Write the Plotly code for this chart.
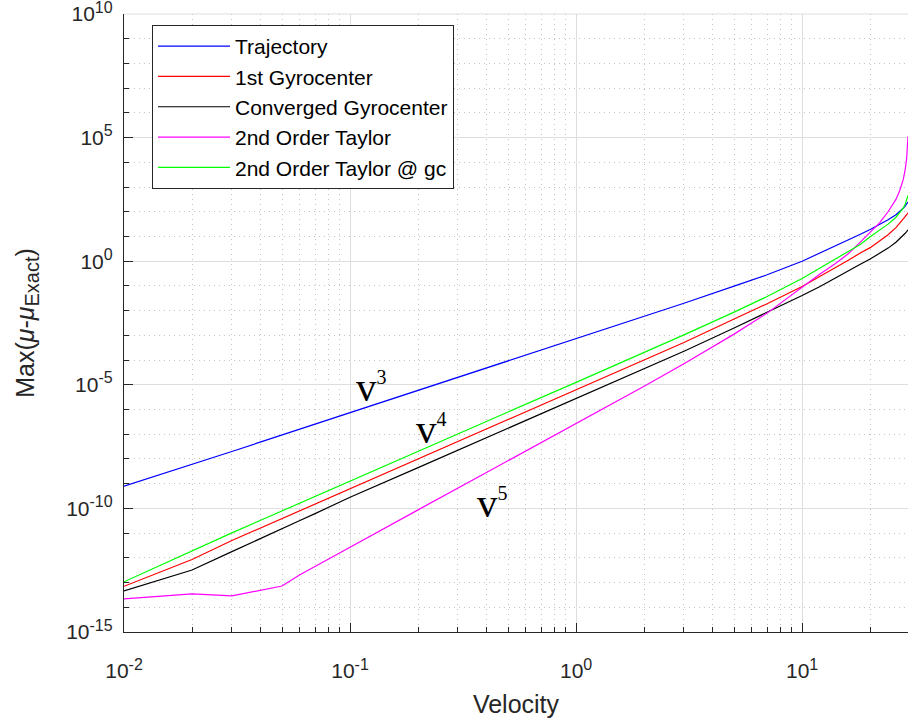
import numpy as np
import plotly.graph_objects as go

# Velocity samples shared by all curves
velocity = [0.01, 0.02, 0.03, 0.04, 0.05, 0.06, 0.07, 0.08, 0.09, 0.1,
            0.2, 0.5, 1, 2, 3, 5, 7, 10, 12, 14, 16, 18, 20, 22, 24, 26, 27, 28, 28.5, 29, 29.4]

# log10 of Max(mu - mu_exact) for each method
trajectory_exp = [-9.10, -8.23, -7.70, -7.32, -7.03, -6.80, -6.60, -6.42, -6.27, -6.13,
                  -5.23, -4.03, -3.13, -2.23, -1.70, -1.01, -0.55, 0.00, 0.33, 0.60,
                  0.86, 1.08, 1.28, 1.48, 1.68, 1.88, 2.00, 2.14, 2.22, 2.31, 2.40]
gyro1_exp = [-13.15, -12.07, -11.30, -10.80, -10.41, -10.10, -9.83, -9.60, -9.39, -9.21,
             -8.01, -6.41, -5.21, -4.01, -3.29, -2.34, -1.72, -1.02, -0.62, -0.26,
             0.04, 0.32, 0.55, 0.82, 1.07, 1.36, 1.52, 1.70, 1.79, 1.88, 1.96]
converged_exp = [-13.34, -12.49, -11.75, -11.24, -10.82, -10.49, -10.21, -9.96, -9.75, -9.55,
                 -8.35, -6.75, -5.55, -4.35, -3.64, -2.70, -2.08, -1.39, -1.02, -0.67,
                 -0.38, -0.13, 0.09, 0.31, 0.53, 0.77, 0.90, 1.04, 1.12, 1.20, 1.27]
taylor2_exp = [-13.66, -13.46, -13.54, -13.30, -13.14, -12.68, -12.35, -12.06, -11.80, -11.57,
               -10.06, -8.08, -6.57, -5.06, -4.15, -2.95, -2.10, -1.05, -0.52, -0.10,
               0.30, 0.75, 1.15, 1.55, 2.00, 2.50, 2.85, 3.30, 3.65, 4.15, 5.05]
taylor2_gc_exp = [-12.97, -11.71, -10.99, -10.49, -10.10, -9.79, -9.52, -9.29, -9.08, -8.90,
                  -7.70, -6.10, -4.90, -3.70, -2.98, -2.06, -1.43, -0.70, -0.27, 0.08,
                  0.38, 0.67, 0.99, 1.24, 1.50, 1.78, 1.95, 2.15, 2.28, 2.45, 2.66]

series_names = ["Trajectory", "1st Gyrocenter", "Converged Gyrocenter",
                "2nd Order Taylor", "2nd Order Taylor @ gc"]
series_exps = [trajectory_exp, gyro1_exp, converged_exp, taylor2_exp, taylor2_gc_exp]
series_colors = ["#0000ff", "#ff0000", "#000000", "#ff00ff", "#00ff00"]

# Axis ticks (decade exponents shown as superscripts)
x_major = [0.01, 0.1, 1, 10]
x_major_exp = ["-2", "-1", "0", "1"]
y_major = [1e-15, 1e-10, 1e-5, 1, 1e5, 1e10]
y_major_exp = ["-15", "-10", "-5", "0", "5", "10"]
x_limits = [0.01, 29.4]
y_limits = [1e-15, 1.002e10]

# Power-law slope labels
slope_text = ["v", "v", "v"]
slope_power = ["3", "4", "5"]
slope_x = [0.125, 0.23, 0.425]
slope_y = [8e-6, 1.6e-7, 1.7e-10]

x_minor = [k * 10.0 ** d for d in range(-2, 2) for k in range(2, 10)
           if k * 10.0 ** d <= x_limits[1]]
y_minor = [10.0 ** e for e in range(-14, 10) if e % 5 != 0]


def power_label(e):
    return f"10<sup><span style='font-size:16px'>{e}</span></sup>"


axis_color = "#262626"
major_grid = "#dedede"
sans = "Liberation Sans, Arial, Helvetica, sans-serif"

fig = go.Figure()
for name, exps, color in zip(series_names, series_exps, series_colors):
    fig.add_trace(go.Scatter(
        x=velocity, y=10.0 ** np.array(exps), mode="lines", name=name,
        line=dict(color=color, width=1.2),
    ))

for t, p, xv, yv in zip(slope_text, slope_power, slope_x, slope_y):
    fig.add_annotation(
        x=np.log10(xv), y=np.log10(yv), xref="x", yref="y",
        text=f"{t}<sup><span style='font-size:20px'>{p}</span></sup>",
        showarrow=False, xanchor="center", yanchor="middle",
        font=dict(family="Liberation Serif, Times New Roman, serif", size=41, color="black"),
    )

# top grid line along the upper edge of the axes
fig.add_shape(type="line", xref="paper", yref="paper", x0=0, x1=1, y0=1, y1=1,
              line=dict(color=major_grid, width=1), layer="below")

common_axis = dict(
    type="log",
    showline=True, linecolor=axis_color, linewidth=1.3, mirror=False,
    ticks="inside", ticklen=9, tickwidth=1.2, tickcolor=axis_color,
    showgrid=True, gridcolor=major_grid, gridwidth=1,
    zeroline=False,
    tickfont=dict(family=sans, size=21, color=axis_color),
    tickmode="array",
    ticklabeloverflow="allow",
)

fig.update_xaxes(
    **common_axis,
    range=[np.log10(x_limits[0]), np.log10(x_limits[1])],
    tickvals=x_major, ticktext=[power_label(e) for e in x_major_exp],
    ticklabelstandoff=20,
    minor=dict(tickmode="array", tickvals=x_minor, ticks="inside", ticklen=5,
               tickwidth=1.2, tickcolor=axis_color, showgrid=True,
               gridcolor="#c4c4c4", gridwidth=1, griddash="1px,4px"),
    title=dict(text="Velocity", font=dict(family=sans, size=25, color=axis_color), standoff=14),
)
fig.update_yaxes(
    **common_axis,
    range=[np.log10(y_limits[0]), np.log10(y_limits[1])],
    tickvals=y_major, ticktext=[power_label(e) for e in y_major_exp],
    ticklabelstandoff=6,
    minor=dict(tickmode="array", tickvals=y_minor, ticks="inside", ticklen=5,
               tickwidth=1.2, tickcolor=axis_color, showgrid=True,
               gridcolor="#c4c4c4", gridwidth=1, griddash="1px,4px"),
    title=dict(text="Max(<i>μ</i>-<i>μ</i><sub><span style='font-size:20px'>Exact</span></sub>)",
               font=dict(family=sans, size=25, color=axis_color), standoff=24),
)

fig.update_layout(
    width=908, height=719,
    margin=dict(l=124, r=0, t=14, b=87, autoexpand=False),
    paper_bgcolor="white", plot_bgcolor="white",
    showlegend=True,
    legend=dict(
        x=(152 - 124) / 784, y=(632 - 25) / 618, xanchor="left", yanchor="top",
        bgcolor="white", bordercolor=axis_color, borderwidth=1,
        font=dict(family=sans, size=21, color="black"),
        itemwidth=72, tracegroupgap=0,
    ),
)

fig.write_html("out.html")
